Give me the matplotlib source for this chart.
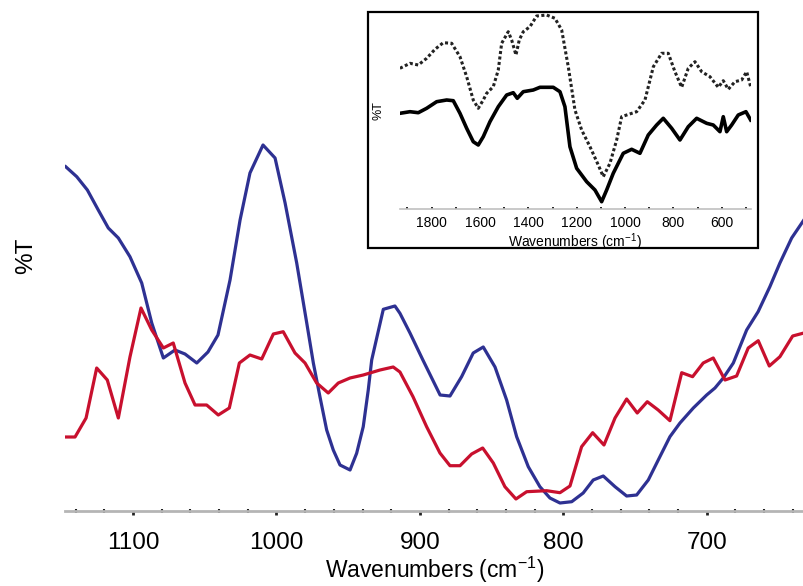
import matplotlib
matplotlib.use('Agg')
import matplotlib.pyplot as plt
from matplotlib.patches import Rectangle
from matplotlib.ticker import MultipleLocator

plt.rcParams['font.family'] = ['Liberation Sans', 'DejaVu Sans']
plt.rcParams['mathtext.default'] = 'regular'

# main spectra (wavenumber, %T in arbitrary units)
blue_wn = [1147.0, 1139.3, 1131.9, 1124.3, 1117.3, 1110.3, 1102.2, 1094.0, 1087.0, 1078.9,
           1070.8, 1063.8, 1055.6, 1047.8, 1040.8, 1032.4, 1025.4, 1018.5, 1009.4, 1001.0,
           994.0, 985.9, 978.9, 974.3, 969.7, 965.0, 960.4, 955.7, 948.7, 944.1,
           939.5, 936.0, 933.6, 930.1, 925.5, 917.4, 913.9, 906.9, 897.9, 885.9,
           879.0, 870.9, 862.8, 855.8, 847.6, 839.5, 832.5, 824.4, 816.3, 809.3,
           802.3, 794.1, 786.1, 779.1, 772.1, 763.9, 755.8, 748.8, 740.7, 732.6,
           725.6, 718.6, 709.3, 700.0, 694.2, 688.4, 681.4, 672.1, 664.1, 655.9,
           648.9, 640.7, 632.2]
blue_t = [344.3, 334.3, 321, 301, 283, 273, 254.3, 228, 188, 153,
          161, 157, 148, 159, 176, 231, 291, 338, 366, 353,
          308, 248, 188, 148, 114.3, 81, 61, 46, 41, 57.7,
          84.3, 121, 151, 173, 201.7, 205, 197.7, 178, 151, 116,
          115, 134.3, 158, 164, 144, 111, 74.3, 44.3, 24.3, 13,
          8, 9.3, 18, 31, 35, 24.3, 15, 16, 31, 54.3,
          74.3, 88, 103, 116, 123, 133, 148, 181, 199.3, 224.3,
          248, 273, 291]

red_wn = [1147.0, 1140.5, 1132.8, 1125.4, 1118.0, 1110.3, 1102.2, 1094.5, 1087.0, 1078.9,
          1072.0, 1063.8, 1056.8, 1048.7, 1040.6, 1032.9, 1025.9, 1018.5, 1010.3, 1002.2,
          995.3, 987.1, 980.1, 972.0, 963.9, 956.9, 948.7, 939.5, 927.8, 918.6,
          913.9, 904.8, 895.3, 886.0, 879.0, 872.0, 863.9, 856.2, 848.8, 840.7,
          833.0, 825.5, 811.6, 802.3, 795.3, 787.2, 779.5, 771.6, 763.9, 755.8,
          748.4, 741.4, 733.8, 725.6, 717.4, 709.8, 702.4, 695.4, 687.2, 679.1,
          671.0, 664.0, 656.3, 648.9, 640.0, 632.2]
red_t = [74, 74, 93, 143, 131, 93, 154, 203, 181, 163,
         168, 128, 106, 106, 96, 103, 148, 156, 152, 177,
         179.3, 158, 148, 128, 118, 128, 133, 136, 141, 144,
         139, 114.3, 84.3, 58, 45.3, 45.3, 57, 63, 48, 24.3,
         12, 19.3, 20.3, 18.3, 25, 64.3, 78.3, 66, 93, 112,
         98, 109.3, 101, 90.3, 138.3, 134.3, 148, 153, 131, 135,
         163, 170.3, 145, 154.3, 175, 178]

# inset spectra
dot_wn = [1931.2, 1889.8, 1855.4, 1820.7, 1786.3, 1752.0, 1717.3, 1682.9, 1655.2, 1627.9,
          1607.2, 1586.5, 1572.4, 1545.1, 1524.4, 1510.4, 1483.1, 1469.0, 1451.2, 1437.6,
          1421.0, 1393.3, 1365.6, 1324.2, 1289.9, 1262.1, 1234.8, 1207.1, 1179.4, 1145.0,
          1110.7, 1090.0, 1062.3, 1034.6, 1013.9, 993.2, 951.8, 917.5, 882.8, 848.4,
          821.1, 793.4, 765.7, 738.3, 710.6, 682.9, 648.6, 614.2, 593.5, 572.8,
          545.1, 517.4, 496.7, 480.2]
dot_t = [141, 146, 144.3, 151, 160, 166.6, 166, 152.6, 132.6, 109.3,
         101, 109.3, 116, 122.6, 139.3, 166, 177.6, 169.3, 154.3, 169.3,
         177.6, 182.6, 193.3, 194.3, 191, 179.3, 142.6, 99.3, 79.3, 62.6,
         44.3, 32.6, 46, 69.3, 92.6, 94.3, 97.6, 109.3, 142.6, 156,
         156, 137.6, 122, 141, 147.6, 137.6, 132.6, 122, 128.6, 120,
         127.6, 129.3, 137.6, 122.6]

sol_wn = [1931.2, 1889.8, 1855.4, 1820.7, 1779.3, 1737.9, 1710.6, 1682.9, 1655.2, 1627.9,
          1607.2, 1586.5, 1558.8, 1524.4, 1489.7, 1462.4, 1445.8, 1421.0, 1379.6, 1351.9,
          1296.9, 1269.2, 1248.6, 1227.9, 1200.1, 1158.7, 1124.4, 1096.7, 1076.0, 1048.7,
          1007.3, 972.6, 938.2, 903.8, 869.1, 841.8, 807.0, 772.7, 738.3, 703.6,
          662.2, 634.9, 607.2, 593.5, 579.5, 558.8, 531.5, 499.7, 480.2]
sol_t = [96, 97.6, 96.6, 101, 107.6, 109.3, 108.6, 96, 81, 67.6,
         64.3, 72.6, 87.6, 102.6, 114.3, 116.6, 111, 117.6, 119.3, 122,
         122, 117.6, 102.6, 62.6, 41, 27.6, 19.3, 7.6, 19.3, 36,
         56, 60, 56, 74.3, 84.3, 91, 81, 69.3, 82.6, 91,
         86, 84.3, 77.6, 92.6, 77.6, 84.3, 94.3, 97.6, 89.3]

W, H = 804, 586
fig = plt.figure(figsize=(W / 100, H / 100), dpi=100)

ax = fig.add_axes([65 / W, 1 - 511 / H, (W - 65) / W, 511 / H])
ax.plot(blue_wn, blue_t, color='#2e3192', lw=2.3)
ax.plot(red_wn, red_t, color='#c8102e', lw=2.3)
ax.set_xlim(1147.5, 632.1)
ax.set_ylim(0, 511)
for s in ['top', 'right', 'left']:
    ax.spines[s].set_visible(False)
ax.spines['bottom'].set_color('#b5b5b5')
ax.spines['bottom'].set_linewidth(2)
ax.set_yticks([])
ax.xaxis.set_major_locator(MultipleLocator(100))
ax.xaxis.set_minor_locator(MultipleLocator(20))
ax.tick_params(axis='x', which='major', direction='out', length=3, width=2,
               color='#222222', labelsize=17.5, pad=12)
ax.tick_params(axis='x', which='minor', direction='inout', length=2.5, width=1.5,
               color='#222222')
ax.set_xlabel('Wavenumbers (cm$^{-1}$)', fontsize=16.5, labelpad=1)
ax.set_ylabel('%T', fontsize=17.5, labelpad=20)

# inset
fig.add_artist(Rectangle((368 / W, 1 - 248 / H), 390 / W, 236 / H,
                         transform=fig.transFigure, fill=True, facecolor='white',
                         edgecolor='black', lw=1.6, zorder=5))
ins = fig.add_axes([400 / W, 1 - 209.3 / H, 350.7 / W, 197.3 / H], zorder=6)
ins.patch.set_alpha(0)
ins.plot(dot_wn, dot_t, color='#222222', lw=2.2, linestyle=(0, (1, 0.8)))
ins.plot(sol_wn, sol_t, color='black', lw=2.6)
ins.set_xlim(1931, 480)
ins.set_ylim(0, 197.3)
for s in ['top', 'right', 'left']:
    ins.spines[s].set_visible(False)
ins.spines['bottom'].set_color('#c0c0c0')
ins.spines['bottom'].set_linewidth(1.2)
ins.set_yticks([])
ins.xaxis.set_major_locator(MultipleLocator(200))
ins.xaxis.set_minor_locator(MultipleLocator(100))
ins.tick_params(axis='x', which='major', direction='in', length=1.5, width=1.2,
                labelsize=10, pad=5)
ins.tick_params(axis='x', which='minor', direction='in', length=1.5, width=1.2)
ins.set_xlabel('Wavenumbers (cm$^{-1}$)', fontsize=10, labelpad=1)
ins.set_ylabel('%T', fontsize=9, labelpad=11)

fig.savefig('out.png', dpi=100)
